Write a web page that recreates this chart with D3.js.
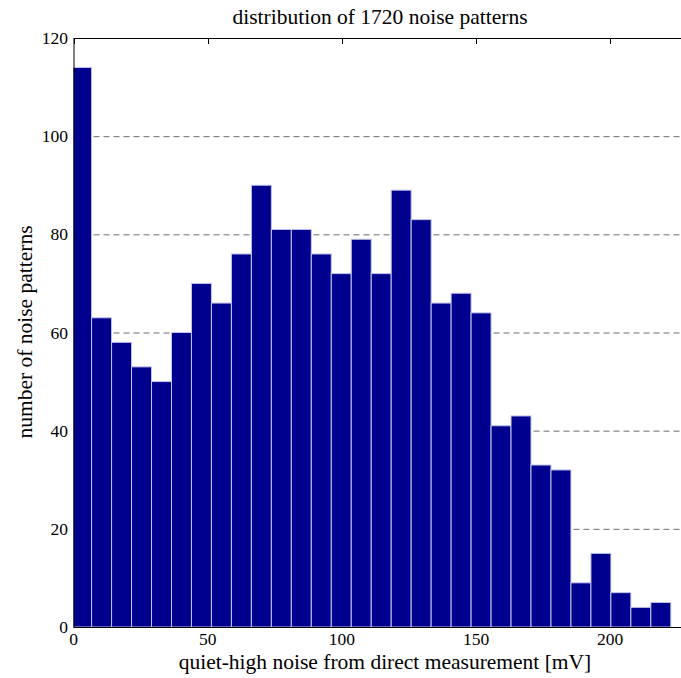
<!DOCTYPE html>
<html>
<head>
<meta charset="utf-8">
<script src="https://cdn.jsdelivr.net/npm/d3@7"></script>
<style>
  html, body { margin: 0; padding: 0; background: #fff; overflow: hidden; }
  svg { display: block; }
  text { font-family: "Liberation Serif", "Times New Roman", serif; fill: #000; }
</style>
</head>
<body>
<svg id="chart" width="681" height="678"></svg>
<script>
// Histogram counts, 30 equal-width bins
const counts = [114, 63, 58, 53, 50, 60, 70, 66, 76, 90, 81, 81, 76, 72, 79,
                72, 89, 83, 66, 68, 64, 41, 43, 33, 32, 9, 15, 7, 4, 5];
const binStart = -0.7;    // lower edge of first bin [mV]
const binWidth = 7.443;   // bin width [mV]
const xTicks = [0, 50, 100, 150, 200];
const yTicks = [0, 20, 40, 60, 80, 100, 120];
const titleText = "distribution of 1720 noise patterns";
const xLabel = "quiet-high noise from direct measurement [mV]";
const yLabel = "number of noise patterns";

const svg = d3.select("#chart");
const plotL = 73.5, plotT = 38, plotB = 627;
const x = d3.scaleLinear().domain([0, 229]).range([plotL, plotL + 229 * 2.6835]);
const y = d3.scaleLinear().domain([0, 120]).range([plotB, plotT]);
const plotR = x.range()[1];

const bins = counts.map((c, i) => ({ x0: binStart + i * binWidth, x1: binStart + (i + 1) * binWidth, n: c }));

svg.append("defs").append("clipPath").attr("id", "plotclip")
  .append("rect").attr("x", plotL).attr("y", plotT - 1).attr("width", plotR - plotL).attr("height", plotB - plotT + 2);

// dashed horizontal grid
svg.append("g").selectAll("line").data(yTicks.filter(t => t > 0 && t < 120)).join("line")
  .attr("x1", plotL).attr("x2", plotR)
  .attr("y1", d => y(d) + 0.5).attr("y2", d => y(d) + 0.5)
  .attr("stroke", "#6e6e6e").attr("stroke-width", 1)
  .attr("stroke-dasharray", "6,4");

// bars
svg.append("g").attr("clip-path", "url(#plotclip)").selectAll("rect").data(bins).join("rect")
  .attr("x", d => x(d.x0))
  .attr("width", d => x(d.x1) - x(d.x0))
  .attr("y", d => y(d.n))
  .attr("height", d => y(0) - y(d.n))
  .attr("fill", "#00008f")
  .attr("stroke", "#c4c4ec")
  .attr("stroke-width", 1);

// axes box (top and bottom lines, left line)
const axis = svg.append("g").attr("stroke", "#000").attr("stroke-width", 1);
axis.append("line").attr("x1", plotL + 0.5).attr("x2", plotL + 0.5).attr("y1", plotT + 0.5).attr("y2", plotB + 0.5);
axis.append("line").attr("x1", plotL).attr("x2", plotR).attr("y1", plotT + 0.5).attr("y2", plotT + 0.5);
axis.append("line").attr("x1", plotL).attr("x2", plotR).attr("y1", plotB + 0.5).attr("y2", plotB + 0.5);

// inward ticks along top edge
axis.selectAll("line.xt").data(xTicks).join("line").attr("class", "xt")
  .attr("x1", d => Math.round(x(d)) + 0.5).attr("x2", d => Math.round(x(d)) + 0.5)
  .attr("y1", plotT).attr("y2", plotT + 6);

// tick labels
svg.append("g").selectAll("text").data(xTicks).join("text")
  .attr("x", d => x(d)).attr("y", 645)
  .attr("text-anchor", "middle").attr("font-size", 17.5)
  .text(d => d);
svg.append("g").selectAll("text").data(yTicks).join("text")
  .attr("x", 68).attr("y", d => y(d) + 6)
  .attr("text-anchor", "end").attr("font-size", 17.5)
  .text(d => d);

// title and axis labels
svg.append("text").attr("x", 380).attr("y", 24)
  .attr("text-anchor", "middle").attr("font-size", 21.5).text(titleText);
svg.append("text").attr("x", 385).attr("y", 669)
  .attr("text-anchor", "middle").attr("font-size", 21.5).text(xLabel);
svg.append("text").attr("transform", "translate(32,332) rotate(-90)")
  .attr("text-anchor", "middle").attr("font-size", 21.5).text(yLabel);
</script>
</body>
</html>
